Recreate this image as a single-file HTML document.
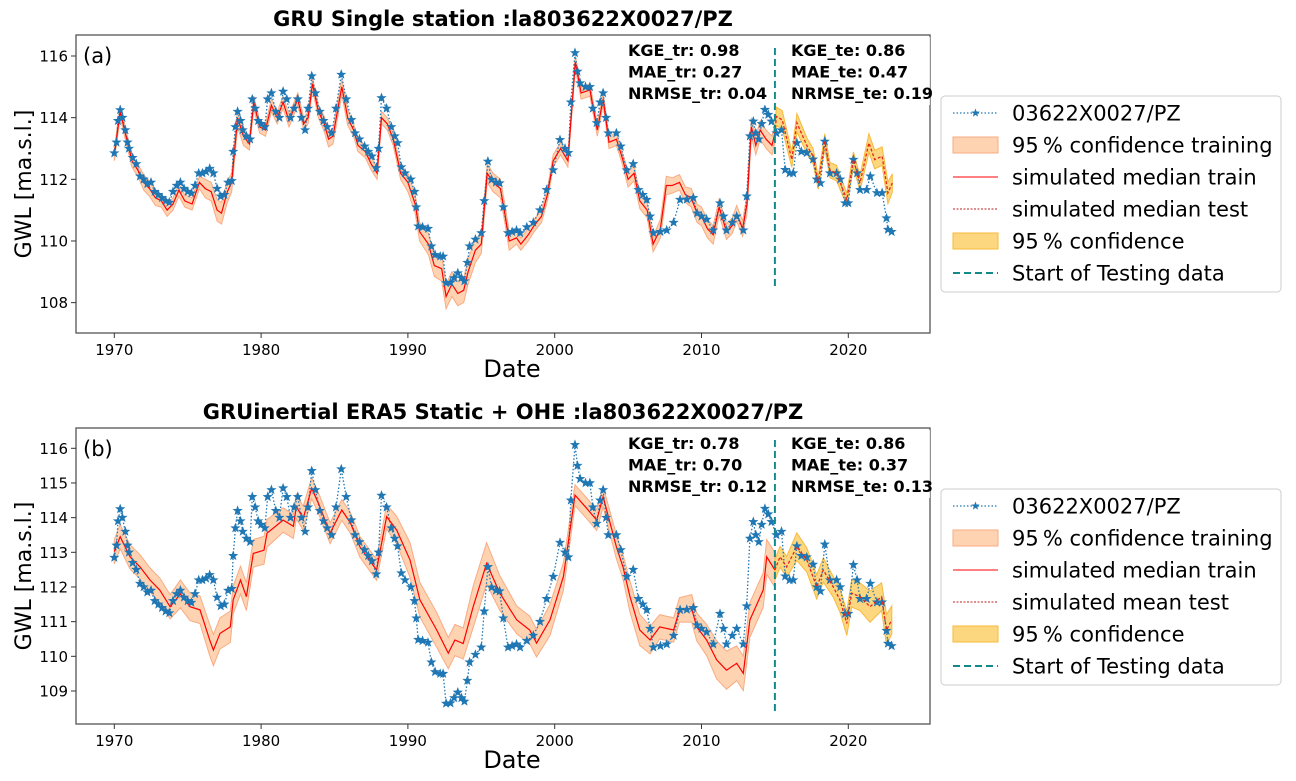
<!DOCTYPE html>
<html><head><meta charset="utf-8">
<style>
body{margin:0;background:#fff;}
svg{display:block;font-family:"DejaVu Sans","Liberation Sans",sans-serif;}
</style></head>
<body>
<svg id="fig" width="1296" height="781" viewBox="0 0 1296 781" xmlns="http://www.w3.org/2000/svg"></svg>
<script>
// ---------- DATA ----------
const obsDates = [1970.0,1970.15,1970.25,1970.4,1970.55,1970.75,1970.9,1971.0,1971.25,1971.5,1971.75,1972.0,1972.25,1972.5,1972.75,1973.0,1973.25,1973.5,1973.75,1974.0,1974.25,1974.5,1974.75,1975.0,1975.25,1975.5,1975.75,1976.0,1976.25,1976.5,1976.75,1977.0,1977.25,1977.5,1977.75,1978.0,1978.1,1978.25,1978.4,1978.6,1978.75,1979.0,1979.25,1979.4,1979.6,1979.8,1980.0,1980.25,1980.45,1980.7,1981.0,1981.25,1981.5,1981.75,1982.0,1982.25,1982.5,1982.75,1983.0,1983.2,1983.45,1983.7,1984.0,1984.25,1984.5,1984.8,1985.1,1985.46,1985.8,1986.15,1986.4,1986.7,1987.05,1987.3,1987.55,1987.85,1988.0,1988.2,1988.55,1988.87,1989.1,1989.3,1989.55,1989.8,1990.2,1990.45,1990.57,1990.7,1991.0,1991.37,1991.6,1991.85,1992.2,1992.4,1992.6,1992.9,1993.15,1993.4,1993.65,1993.85,1994.05,1994.2,1994.6,1995.0,1995.2,1995.45,1995.7,1996.0,1996.25,1996.5,1996.82,1997.1,1997.4,1997.64,1998.1,1998.54,1999.0,1999.45,1999.9,2000.36,2000.7,2000.93,2001.1,2001.38,2001.55,2001.73,2002.1,2002.4,2002.6,2002.86,2003.1,2003.3,2003.5,2003.65,2004.2,2004.5,2004.9,2005.35,2005.7,2006.0,2006.27,2006.5,2006.72,2007.2,2007.63,2008.1,2008.54,2009.0,2009.44,2009.7,2010.0,2010.35,2010.8,2011.26,2011.5,2011.7,2012.1,2012.4,2012.85,2013.08,2013.3,2013.53,2013.7,2013.9,2014.1,2014.32,2014.55,2014.77,2015.1,2015.45,2015.7,2016.0,2016.25,2016.5,2016.8,2017.17,2017.6,2017.85,2018.1,2018.4,2018.75,2019.2,2019.45,2019.78,2020.0,2020.35,2020.6,2020.8,2021.25,2021.5,2021.95,2022.3,2022.6,2022.7,2022.95];
const obsValues = [112.85,113.2,113.9,114.25,114.0,113.6,113.2,113.0,112.7,112.5,112.1,112.0,111.85,111.9,111.6,111.5,111.4,111.3,111.25,111.6,111.8,111.9,111.7,111.6,111.55,111.8,112.2,112.2,112.25,112.35,112.2,111.7,111.45,111.5,111.9,111.95,112.9,113.7,114.2,113.9,113.6,113.4,113.3,114.6,114.3,113.9,113.8,113.7,114.6,114.8,114.2,114.0,114.85,114.6,114.0,114.3,114.6,114.0,113.6,114.3,115.35,114.8,114.2,113.9,113.7,113.5,114.3,115.4,114.6,113.93,113.5,113.3,113.07,112.9,112.75,112.37,113.0,114.64,114.3,113.7,113.4,113.18,112.4,112.2,112.0,111.6,111.1,110.48,110.45,110.4,109.83,109.55,109.5,109.5,108.64,108.65,108.8,108.96,108.8,108.7,109.3,109.83,110.05,110.26,111.3,112.58,111.99,111.9,111.88,111.1,110.26,110.3,110.35,110.26,110.45,110.6,111.0,111.66,112.3,113.28,113.0,112.86,114.5,116.1,115.5,115.12,115.0,115.0,114.3,113.83,114.5,114.8,114.0,113.5,113.5,113.07,112.3,112.5,111.66,111.5,111.34,110.8,110.26,110.3,110.35,110.6,111.34,111.35,111.4,110.9,110.8,110.7,110.35,111.23,110.8,110.35,110.6,110.8,110.35,111.45,113.4,113.88,113.5,113.3,113.8,114.26,114.1,113.88,113.5,113.6,112.31,112.2,112.2,113.18,112.9,112.86,112.65,112.0,111.88,113.23,112.2,112.2,112.0,111.23,111.23,112.64,112.2,111.66,111.66,112.1,111.56,111.56,110.74,110.37,110.3];

const simATrainDates = [1970.0,1970.4,1970.8,1971.2,1971.6,1972.0,1972.4,1972.8,1973.2,1973.6,1974.0,1974.4,1974.8,1975.3,1975.8,1976.2,1976.6,1977.0,1977.3,1977.7,1978.0,1978.4,1978.8,1979.2,1979.5,1979.9,1980.3,1980.7,1981.1,1981.5,1981.9,1982.5,1982.9,1983.2,1983.5,1983.9,1984.3,1984.6,1984.9,1985.5,1985.9,1986.3,1986.6,1987.1,1987.5,1987.9,1988.2,1988.6,1989.0,1989.5,1990.0,1990.5,1990.8,1991.4,1991.8,1992.3,1992.6,1993.0,1993.4,1993.8,1994.1,1994.6,1995.0,1995.4,1995.8,1996.3,1996.6,1996.9,1997.4,1997.7,1998.2,1998.6,1999.1,1999.5,1999.9,2000.4,2000.9,2001.4,2001.8,2002.4,2002.9,2003.3,2003.7,2004.2,2004.6,2005.0,2005.4,2005.8,2006.3,2006.7,2007.2,2007.6,2008.0,2008.5,2008.9,2009.3,2009.7,2010.0,2010.4,2010.8,2011.2,2011.7,2012.1,2012.4,2012.8,2013.1,2013.4,2013.7,2014.0,2014.4,2014.8,2015.0];
const simATrainValues = [112.8,114.2,113.4,112.6,112.3,111.9,111.7,111.4,111.3,111.0,111.2,111.65,111.3,111.2,111.9,111.7,111.6,111.0,110.9,111.6,111.9,114.0,113.4,113.15,114.5,113.7,113.6,114.4,114.0,114.5,113.9,114.6,113.8,114.0,115.1,114.2,113.8,113.3,113.4,115.0,114.0,113.6,113.1,112.9,112.5,112.2,114.0,113.8,113.3,112.2,111.9,111.2,110.3,109.9,109.2,109.1,108.2,108.6,108.3,108.4,109.0,109.7,109.9,112.2,111.9,111.7,110.9,110.0,110.1,109.9,110.2,110.5,110.8,111.5,112.6,113.0,112.6,115.8,114.8,114.9,113.6,114.6,113.2,113.3,112.7,112.0,112.2,111.3,111.0,109.9,110.4,111.8,111.8,111.9,111.5,111.4,110.9,110.8,110.4,110.2,111.1,110.3,110.5,110.9,110.4,111.2,113.7,113.1,113.6,113.3,113.1,113.5];
const bandAByYear = [0.2,0.2,0.25,0.2,0.2,0.2,0.3,0.35,0.3,0.2,0.2,0.2,0.2,0.2,0.25,0.25,0.2,0.2,0.2,0.2,0.3,0.35,0.4,0.4,0.4,0.3,0.3,0.2,0.2,0.2,0.2,0.2,0.2,0.2,0.2,0.25,0.25,0.3,0.25,0.3,0.3,0.25,0.25,0.3,0.3,0.3];
const simATestDates = [2015.0,2015.1,2015.5,2016.15,2016.5,2017.2,2017.6,2017.95,2018.4,2018.75,2019.2,2019.9,2020.35,2020.8,2021.4,2021.8,2022.3,2022.7,2023.0];
const simATestValues = [113.5,114.04,113.93,112.64,113.83,113.07,112.75,111.88,113.23,112.3,112.2,111.34,112.64,111.88,113.18,112.64,112.75,111.56,111.88];
const bandATest = [0.25,0.3,0.3,0.25,0.3,0.25,0.25,0.2,0.25,0.25,0.25,0.2,0.25,0.25,0.3,0.3,0.3,0.35,0.3];

const simBTrainDates = [1970.0,1970.4,1971.07,1971.75,1972.43,1973.1,1973.8,1974.5,1975.16,1975.84,1976.5,1976.75,1977.2,1977.9,1978.1,1978.6,1979.0,1979.47,1980.2,1980.4,1981.5,1982.2,1982.4,1982.87,1983.45,1984.0,1984.7,1985.5,1986.1,1986.73,1987.87,1988.55,1989.24,1990.14,1990.82,1991.96,1992.75,1993.2,1993.77,1994.45,1995.36,1996.27,1997.41,1998.3,1998.77,1999.68,2000.59,2001.38,2002.18,2002.86,2003.3,2004.2,2004.65,2005.13,2005.8,2006.5,2007.15,2008.1,2008.5,2009.33,2009.67,2010.35,2011.03,2011.7,2012.4,2012.85,2013.3,2014.2,2014.44,2015.0];
const simBTrainValues = [113.02,113.45,112.87,112.58,112.2,111.91,111.43,111.8,111.43,111.34,110.47,110.18,110.66,110.85,111.63,112.2,111.72,112.97,113.06,113.55,113.93,113.75,114.32,113.98,114.85,114.32,113.55,114.22,113.84,113.16,112.49,114.03,113.64,112.78,111.63,110.76,110.09,110.47,110.37,111.43,112.68,111.82,111.05,110.76,110.38,111.05,112.3,114.65,114.27,113.93,114.6,113.16,112.58,111.72,110.76,110.47,110.85,110.76,111.34,111.38,110.85,110.47,109.9,109.6,109.8,109.51,111.05,111.91,112.87,112.49];
const bandBByYear = [0.35,0.35,0.35,0.35,0.4,0.4,0.45,0.45,0.4,0.4,0.4,0.35,0.35,0.3,0.3,0.3,0.3,0.3,0.35,0.4,0.5,0.5,0.45,0.45,0.6,0.6,0.5,0.4,0.4,0.45,0.4,0.3,0.3,0.3,0.35,0.45,0.4,0.35,0.35,0.4,0.45,0.55,0.5,0.5,0.5,0.5];
const simBTestDates = [2015.0,2015.35,2015.8,2016.49,2017.17,2017.85,2018.3,2018.98,2019.43,2019.9,2020.23,2020.8,2021.48,2022.27,2022.6,2022.96];
const simBTestValues = [112.49,112.87,112.58,113.16,112.78,112.0,112.49,112.0,111.63,110.95,111.82,111.72,111.43,111.72,110.76,111.05];
const bandBTest = [0.3,0.3,0.3,0.4,0.35,0.35,0.35,0.3,0.35,0.35,0.4,0.4,0.45,0.4,0.45,0.4];

const xTicks = [1970,1980,1990,2000,2010,2020];
const yTicksA = [108,110,112,114,116];
const yTicksB = [109,110,111,112,113,114,115,116];
const testStart = 2015;

// ---------- DRAW ----------
const NS = "http://www.w3.org/2000/svg";
const svg = document.getElementById('fig');
function mk(tag, attrs, parent) {
  const e = document.createElementNS(NS, tag);
  for (const k in attrs) e.setAttribute(k, attrs[k]);
  (parent || svg).appendChild(e);
  return e;
}
function xScale(yr){ return 114.3 + (yr - 1970) * 14.68; }
function starPath(cx, cy, r) {
  let d = "";
  for (let i = 0; i < 10; i++) {
    const rr = i % 2 === 0 ? r : r * 0.42;
    const a = -Math.PI / 2 + i * Math.PI / 5;
    d += (i ? "L" : "M") + (cx + rr * Math.cos(a)).toFixed(1) + "," + (cy + rr * Math.sin(a)).toFixed(1);
  }
  return d + "Z";
}
function bandPath(dates, vals, bwFn, y) {
  let up = [], lo = [];
  for (let i = 0; i < dates.length; i++) {
    const w = bwFn(i);
    up.push(xScale(dates[i]).toFixed(1) + "," + y(vals[i] + w).toFixed(1));
    lo.push(xScale(dates[i]).toFixed(1) + "," + y(vals[i] - w).toFixed(1));
  }
  return "M" + up.join("L") + "L" + lo.reverse().join("L") + "Z";
}
function linePath(dates, vals, y) {
  return "M" + dates.map((d, i) => xScale(d).toFixed(1) + "," + y(vals[i]).toFixed(1)).join("L");
}

function panel(p) {
  const g = mk('g', {});
  
  
  const y = v => p.y0 + (p.v0 - v) * p.k;
  const L = 76, R = 930;
  const t = mk('text', {x: 503, y: p.top - 9, 'text-anchor': 'middle', 'font-size': 21, 'font-weight': 'bold', fill: '#000'}, g);
  t.textContent = p.title;
  
  
  const bA = mk('path', {d: bandPath(p.trD, p.trV, i => p.bwYear[Math.max(0, Math.min(p.bwYear.length - 1, Math.floor(p.trD[i]) - 1970))], y), fill: '#fdd3b2', stroke: '#f9ab82', 'stroke-width': 1}, g);
  
  
  const bT = mk('path', {d: bandPath(p.teD, p.teV, i => p.bwTest[i], y), fill: '#fdd77f', stroke: '#f6b93b', 'stroke-width': 1}, g);
  
  
  const ol = mk('path', {d: linePath(obsDates, obsValues, y), fill: 'none', stroke: '#1f77b4', 'stroke-width': 1.3, 'stroke-dasharray': '1.5,2'}, g);
  
  
  const sl = mk('path', {d: linePath(p.trD, p.trV, y), fill: 'none', stroke: '#ff0000', 'stroke-width': 1.2}, g);
  
  
  let sd = "";
  for (let i = 0; i < obsDates.length; i++) sd += starPath(xScale(obsDates[i]), y(obsValues[i]), 4.5);
  const st = mk('path', {d: sd, fill: '#1f77b4', stroke: '#1f77b4', 'stroke-width': 0.6}, g);
  
  
  const tl = mk('path', {d: linePath(p.teD, p.teV, y), fill: 'none', stroke: '#e8231c', 'stroke-width': 1.3, 'stroke-dasharray': '3,2'}, g);
  
  
  const vl = mk('line', {x1: xScale(testStart), x2: xScale(testStart), y1: p.vTop, y2: p.vBot, stroke: '#138a8a', 'stroke-width': 2, 'stroke-dasharray': '7,4'}, g);
  
  
  const fr = mk('rect', {x: L, y: p.top, width: R - L, height: p.bot - p.top, fill: 'none', stroke: '#555', 'stroke-width': 1.3}, g);
  
  
  xTicks.forEach(v => {
    const x = xScale(v);
    mk('line', {x1: x, x2: x, y1: p.bot, y2: p.bot + 5, stroke: '#333', 'stroke-width': 1}, g);
    const tt = mk('text', {x: x, y: p.bot + 22, 'text-anchor': 'middle', 'font-size': 15, fill: '#000'}, g);
    tt.textContent = v;
    
    
  });
  p.yTicks.forEach(v => {
    const yy = y(v);
    mk('line', {x1: L - 5, x2: L, y1: yy, y2: yy, stroke: '#333', 'stroke-width': 1}, g);
    const tt = mk('text', {x: L - 8, y: yy + 5.5, 'text-anchor': 'end', 'font-size': 15, fill: '#000'}, g);
    tt.textContent = v;
    
    
  });
  const xl = mk('text', {x: 512, y: p.bot + 44, 'text-anchor': 'middle', 'font-size': 24, fill: '#000'}, g);
  xl.textContent = 'Date';
  
  
  const cy = (p.top + p.bot) / 2;
  const yl = mk('text', {x: 31, y: cy, 'text-anchor': 'middle', 'font-size': 22, fill: '#000', transform: 'rotate(-90 31 ' + cy + ')'}, g);
  yl.textContent = 'GWL [ma.s.l.]';
  
  
  const pl = mk('text', {x: 83, y: p.top + 28, 'font-size': 21, fill: '#000'}, g);
  pl.textContent = p.label;
  
  
  [[p.mTr, 624, 'metrics-training'], [p.mTe, 787, 'metrics-testing']].forEach(m => {
    const bx = mk('rect', {x: m[1], y: p.top + 2, width: m[1] === 624 ? 150 : 143, height: 68, fill: 'rgba(255,255,255,0.8)'}, g);
    
    
    m[0].forEach((s, i) => {
      const mt = mk('text', {x: m[1] + 4, y: p.top + 21 + i * 21.5, 'font-size': 16, 'font-weight': 'bold', fill: '#000'}, g);
      mt.textContent = s;
      
      
    });
  });
  const lg = mk('g', {}, g);
  
  
  const lt = p.legTop;
  mk('rect', {x: 941, y: lt, width: 340, height: 196, rx: 4, fill: '#fff', stroke: '#ccc', 'stroke-width': 1}, lg);
  p.legend.forEach((s, i) => {
    const yy = lt + 17 + i * 32;
    const hx = 953, hw = 45;
    if (i === 0) {
      mk('line', {x1: hx, x2: hx + hw, y1: yy, y2: yy, stroke: '#1f77b4', 'stroke-width': 1.3, 'stroke-dasharray': '1.5,2'}, lg);
      mk('path', {d: starPath(hx + hw / 2, yy, 4.5), fill: '#1f77b4'}, lg);
    } else if (i === 1) {
      mk('rect', {x: hx, y: yy - 8, width: hw, height: 16, fill: '#fdd3b2', stroke: '#f9ab82'}, lg);
    } else if (i === 2) {
      mk('line', {x1: hx, x2: hx + hw, y1: yy, y2: yy, stroke: '#ff0000', 'stroke-width': 1}, lg);
    } else if (i === 3) {
      mk('line', {x1: hx, x2: hx + hw, y1: yy, y2: yy, stroke: '#b22', 'stroke-width': 1, 'stroke-dasharray': '2,1.5'}, lg);
    } else if (i === 4) {
      mk('rect', {x: hx, y: yy - 8, width: hw, height: 16, fill: '#fdd77f', stroke: '#f6b93b'}, lg);
    } else {
      mk('line', {x1: hx, x2: hx + hw, y1: yy, y2: yy, stroke: '#138a8a', 'stroke-width': 2, 'stroke-dasharray': '7,4'}, lg);
    }
    const tx = mk('text', {x: 1012, y: yy + 7.5, 'font-size': 21, fill: '#000'}, lg);
    tx.textContent = s;
    
    
  });
}

panel({name: 'panel-a', title: 'GRU Single station :la803622X0027/PZ', label: '(a)',
  top: 35, bot: 333, y0: 56, v0: 116, k: 30.83, yTicks: yTicksA, vTop: 48, vBot: 290,
  trD: simATrainDates, trV: simATrainValues, bwYear: bandAByYear,
  teD: simATestDates, teV: simATestValues, bwTest: bandATest,
  mTr: ['KGE_tr: 0.98', 'MAE_tr: 0.27', 'NRMSE_tr: 0.04'],
  mTe: ['KGE_te: 0.86', 'MAE_te: 0.47', 'NRMSE_te: 0.19'],
  legTop: 96,
  legend: ['03622X0027/PZ', '95\u2009% confidence training', 'simulated  median train', 'simulated median test', '95\u2009% confidence', 'Start of Testing data']});

panel({name: 'panel-b', title: 'GRUinertial ERA5 Static + OHE :la803622X0027/PZ', label: '(b)',
  top: 428, bot: 724, y0: 448.3, v0: 116, k: 34.67, yTicks: yTicksB, vTop: 440, vBot: 712,
  trD: simBTrainDates, trV: simBTrainValues, bwYear: bandBByYear,
  teD: simBTestDates, teV: simBTestValues, bwTest: bandBTest,
  mTr: ['KGE_tr: 0.78', 'MAE_tr: 0.70', 'NRMSE_tr: 0.12'],
  mTe: ['KGE_te: 0.86', 'MAE_te: 0.37', 'NRMSE_te: 0.13'],
  legTop: 489,
  legend: ['03622X0027/PZ', '95\u2009% confidence training', 'simulated  median train', 'simulated mean test', '95\u2009% confidence', 'Start of Testing data']});
</script>
</body></html>
